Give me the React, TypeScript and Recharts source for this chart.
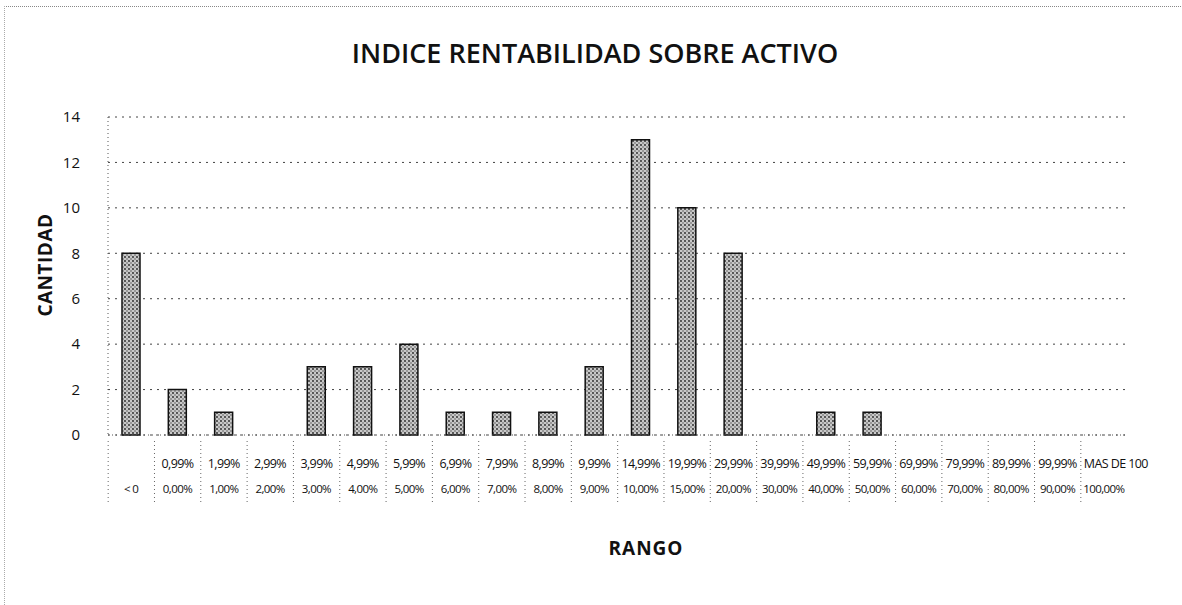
import React from "react";
import { BarChart, Bar, XAxis, YAxis, CartesianGrid } from "recharts";

const upperLabels = ["", "0,99%", "1,99%", "2,99%", "3,99%", "4,99%", "5,99%", "6,99%", "7,99%", "8,99%", "9,99%", "14,99%", "19,99%", "29,99%", "39,99%", "49,99%", "59,99%", "69,99%", "79,99%", "89,99%", "99,99%", "MAS DE 100"];
const lowerLabels = ["< 0", "0,00%", "1,00%", "2,00%", "3,00%", "4,00%", "5,00%", "6,00%", "7,00%", "8,00%", "9,00%", "10,00%", "15,00%", "20,00%", "30,00%", "40,00%", "50,00%", "60,00%", "70,00%", "80,00%", "90,00%", "100,00%"];
const cantidad = [8, 2, 1, 0, 3, 3, 4, 1, 1, 1, 3, 13, 10, 8, 0, 1, 1, 0, 0, 0, 0, 0];
const yTicks = [0, 2, 4, 6, 8, 10, 12, 14];

const data = cantidad.map((v, i) => ({ name: String(i), upper: upperLabels[i], lower: lowerLabels[i], value: v }));

const FONT = "'Open Sans', 'Liberation Sans', sans-serif";

const XTick = (props: any) => {
  const { x, y, payload } = props;
  const d = data[payload.index] || data[Number(payload.value)];
  const half = 23;
  const isLast = d.upper === "MAS DE 100";
  return (
    <g>
      <line x1={x - half} x2={x - half} y1={y - 2} y2={y + 60} stroke="#666" strokeDasharray="1 3" />
      {d.upper && (
        <text x={isLast ? x + 12 : x} y={y + 25} textAnchor="middle" fontSize={12.5} fill="#111" fontFamily={FONT} letterSpacing={-0.6}>
          {d.upper}
        </text>
      )}
      <text x={x} y={y + 50} textAnchor="middle" fontSize={11.5} fill="#111" fontFamily={FONT} letterSpacing={-0.6}>
        {d.lower}
      </text>
    </g>
  );
};

export default function App() {
  return (
    <div style={{ position: "absolute", left: 0, top: 0, width: 1182, height: 605, background: "#fff", fontFamily: FONT }}>
      <div style={{ position: "absolute", left: 4, top: 6, width: 1176, height: 600, borderTop: "1px dotted #888", borderLeft: "1px dotted #aaa" }} />
      <div style={{ position: "absolute", left: 595, top: 52, transform: "translate(-50%, -50%)", fontSize: 27, fontWeight: 600, color: "#111", whiteSpace: "nowrap", lineHeight: 1 }}>
        INDICE RENTABILIDAD SOBRE ACTIVO
      </div>
      <div style={{ position: "absolute", left: 45, top: 265, transform: "translate(-50%, -50%) rotate(-90deg)", fontSize: 19, fontWeight: 700, color: "#111", whiteSpace: "nowrap", lineHeight: 1, letterSpacing: 0.5 }}>
        CANTIDAD
      </div>
      <div style={{ position: "absolute", left: 646, top: 548, transform: "translate(-50%, -50%)", fontSize: 19, fontWeight: 700, color: "#111", whiteSpace: "nowrap", lineHeight: 1, letterSpacing: 1 }}>
        RANGO
      </div>
      <div style={{ position: "absolute", left: 0, top: 0 }}>
        <BarChart width={1182} height={605} data={data} margin={{ top: 117, right: 55, left: 48, bottom: 110 }}>
          <defs>
            <pattern id="stipple" width="4" height="4" patternUnits="userSpaceOnUse">
              <rect width="4" height="4" fill="#c8c8c8" />
              <circle cx="1" cy="1" r="0.9" fill="#222" />
              <circle cx="3" cy="3" r="0.7" fill="#444" />
            </pattern>
          </defs>
          <CartesianGrid horizontal vertical={false} stroke="#444" strokeDasharray="2 5" />
          <YAxis
            width={60}
            domain={[0, 14]}
            ticks={yTicks}
            interval={0}
            axisLine={{ stroke: "#555", strokeDasharray: "1 3" }}
            tickLine={false}
            tickMargin={22}
            tick={{ fontSize: 15, fill: "#111", fontFamily: FONT }}
          />
          <XAxis
            dataKey="name"
            interval={0}
            height={60}
            axisLine={{ stroke: "#555", strokeDasharray: "1 3" }}
            tickLine={false}
            tick={<XTick />}
          />
          <Bar dataKey="value" fill="url(#stipple)" stroke="#111" strokeWidth={1.5} barSize={18} isAnimationActive={false} />
        </BarChart>
      </div>
    </div>
  );
}
